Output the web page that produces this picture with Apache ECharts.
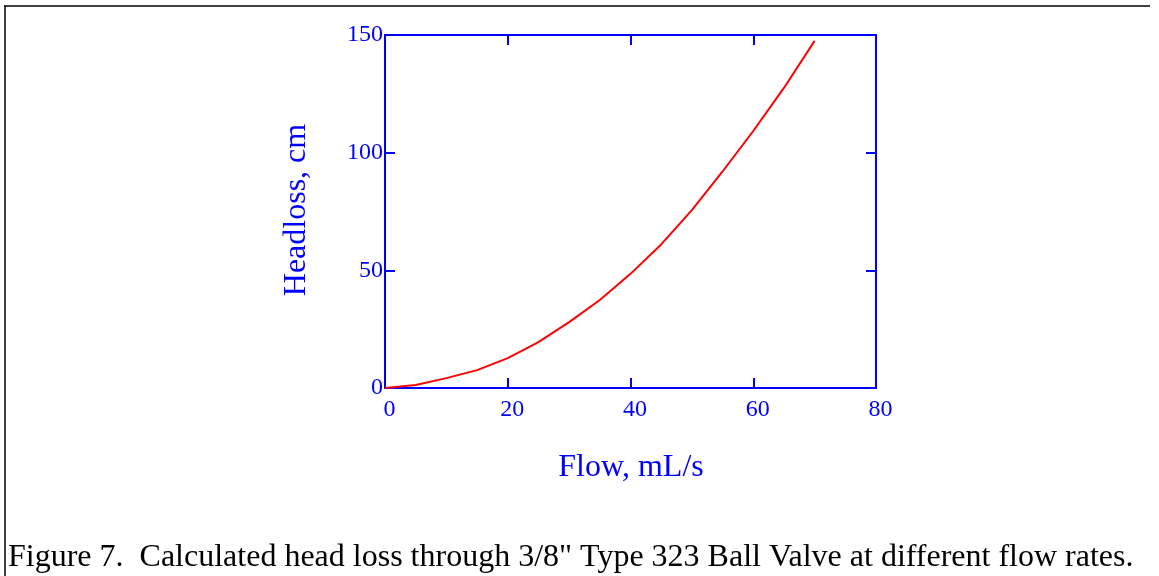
<!DOCTYPE html>
<html><head><meta charset="utf-8">
<script src="https://cdn.jsdelivr.net/npm/echarts@6/dist/echarts.min.js"></script>
<style>html,body{margin:0;padding:0;background:#fff}#c{width:1159px;height:576px}</style>
</head><body><div id="c"></div>
<script>
const flow = [0, 5, 10, 15, 20, 25, 30, 35, 40, 45, 50, 55, 60, 65, 70];
const headloss = [0, 1.3, 4.2, 7.6, 12.7, 19.5, 28, 37.4, 48.5, 61, 75.6, 92, 109.2, 127.5, 147.5];
const xTitle = 'Flow, mL/s';
const yTitle = 'Headloss, cm';
const caption = 'Figure 7.  Calculated head loss through 3/8" Type 323 Ball Valve at different flow rates.';

const blue = '#0000ff';
const font = '"Liberation Serif", "Times New Roman", serif';
const chart = echarts.init(document.getElementById('c'), null, {renderer: 'canvas'});
const axBase = {
  type: 'value',
  axisLine: {show: true, onZero: false, lineStyle: {color: blue, width: 2}},
  axisTick: {show: true, inside: true, length: 10, lineStyle: {color: blue, width: 2}},
  splitLine: {show: false}
};
chart.setOption({
  animation: false,
  grid: {left: 385, right: 283, top: 35, bottom: 188, containLabel: false},
  xAxis: [
    Object.assign({}, axBase, {position: 'bottom', min: 0, max: 80, interval: 20,
      axisLabel: {color: blue, fontFamily: font, fontSize: 24, margin: 10, padding: [0, 0, 0, 9]}}),
    Object.assign({}, axBase, {position: 'top', min: 0, max: 80, interval: 20, axisLabel: {show: false}})
  ],
  yAxis: [
    Object.assign({}, axBase, {position: 'left', min: 0, max: 150, interval: 50,
      axisLabel: {color: blue, fontFamily: font, fontSize: 24, margin: 2, padding: [14, 0, 0, 0]}}),
    Object.assign({}, axBase, {position: 'right', min: 0, max: 150, interval: 50, axisLabel: {show: false}})
  ],
  series: [{
    type: 'line', data: flow.map((f, i) => [f, headloss[i]]),
    xAxisIndex: 0, yAxisIndex: 0, symbol: 'none', smooth: false,
    lineStyle: {color: '#ff0000', width: 2}
  }],
  graphic: [
    {type: 'line', shape: {x1: 4, y1: 6, x2: 1150, y2: 6}, style: {stroke: '#000', lineWidth: 1.5}},
    {type: 'line', shape: {x1: 5, y1: 6, x2: 5, y2: 576}, style: {stroke: '#000', lineWidth: 1.5}},
    {type: 'text', x: 631, y: 468, style: {text: xTitle, fill: blue, font: '32px ' + font, textAlign: 'center', textVerticalAlign: 'middle'}},
    {type: 'text', x: 297, y: 210, rotation: Math.PI / 2, style: {text: yTitle, fill: blue, font: '32px ' + font, textAlign: 'center', textVerticalAlign: 'middle'}},
    {type: 'text', x: 8, y: 558, style: {text: caption, fill: '#000', font: '32px ' + font, textAlign: 'left', textVerticalAlign: 'middle'}}
  ]
});
</script></body></html>
